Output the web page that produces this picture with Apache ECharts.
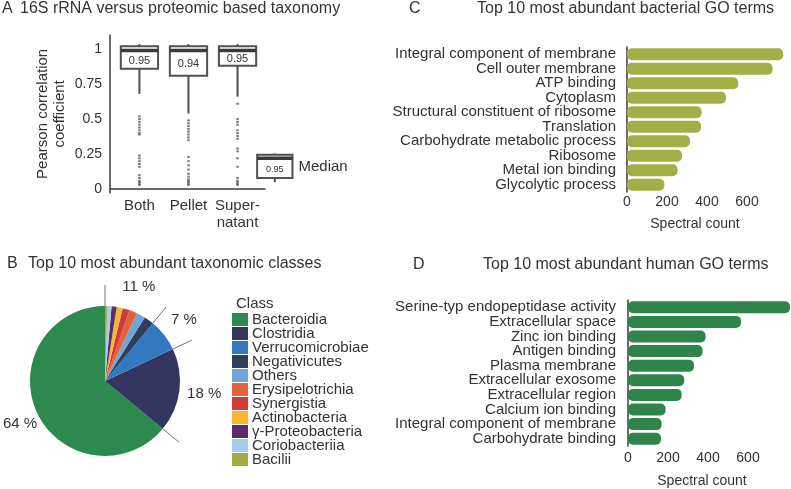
<!DOCTYPE html>
<html>
<head>
<meta charset="utf-8">
<script src="https://cdn.jsdelivr.net/npm/echarts@6/dist/echarts.min.js"></script>
<style>
html,body{margin:0;padding:0;background:#fff;}
#chart{width:791px;height:489px;}
</style>
</head>
<body>
<div id="chart"></div>
<script>
// ---------- Panel A data ----------
const boxGroups = ['Both', 'Pellet', 'Super-\nnatant'];
const boxLow = [0.68, 0.54, 0.66];
const boxQ1 = [0.86, 0.81, 0.88];
const boxMedian = [0.99, 0.99, 0.99];
const boxQ3 = [1.02, 1.02, 1.02];
const boxHigh = [1.035, 1.035, 1.035];
const boxMedianText = ['0.95', '0.94', '0.95'];
const outliersBoth = [0.52, 0.50, 0.48, 0.46, 0.44, 0.42, 0.40, 0.39, 0.24, 0.22, 0.20, 0.18, 0.16, 0.10, 0.08, 0.06, 0.05, 0.04, 0.03];
const outliersPellet = [0.49, 0.47, 0.45, 0.43, 0.41, 0.39, 0.37, 0.35, 0.23, 0.20, 0.17, 0.14, 0.11, 0.09, 0.07, 0.06, 0.05, 0.04, 0.03];
const outliersSuper = [0.61, 0.50, 0.48, 0.46, 0.42, 0.40, 0.38, 0.36, 0.29, 0.27, 0.22, 0.16, 0.08, 0.06, 0.05, 0.04, 0.03];
const keyBox = [0.05, 0.08, 0.22, 0.245, 0.255];
const keyText = '0.95';
const keyName = 'Median';
const yTicksA = [0, 0.25, 0.5, 0.75, 1];

// ---------- Panel B data ----------
const pieClasses = ['Bacteroidia', 'Clostridia', 'Verrucomicrobiae', 'Negativicutes', 'Others', 'Erysipelotrichia', 'Synergistia', 'Actinobacteria', 'γ-Proteobacteria', 'Coriobacteriia', 'Bacilii'];
const pieValues = [64, 18, 7, 2.1, 1.9, 1.7, 1.5, 1.3, 1.1, 0.9, 0.5];
const pieColors = ['#2c8a4e', '#34365f', '#3279c0', '#2b3f5f', '#6fa6d6', '#e2623a', '#cf3a3f', '#f6b630', '#5e2d68', '#a7cdee', '#a3ab3e'];
const pieGroupValues = [64, 18, 7, 11];
const pieGroupLabels = ['64 %', '18 %', '7 %', '11 %'];

// ---------- Panel C data ----------
const bactTerms = ['Integral component of membrane', 'Cell outer membrane', 'ATP binding', 'Cytoplasm', 'Structural constituent of ribosome', 'Translation', 'Carbohydrate metabolic process', 'Ribosome', 'Metal ion binding', 'Glycolytic process'];
const bactCounts = [781, 728, 556, 495, 373, 370, 315, 275, 253, 187];

// ---------- Panel D data ----------
const humanTerms = ['Serine-typ endopeptidase activity', 'Extracellular space', 'Zinc ion binding', 'Antigen binding', 'Plasma membrane', 'Extracellular exosome', 'Extracellular region', 'Calcium ion binding', 'Integral component of membrane', 'Carbohydrate binding'];
const humanCounts = [810, 565, 388, 373, 330, 281, 268, 188, 168, 165];

const xTicksBar = [0, 200, 400, 600];

// ---------- styling ----------
const FONT = '"Liberation Sans", Arial, Helvetica, sans-serif';
const TXT = '#333';
const LINE = '#3a3a3a';

const chart = echarts.init(document.getElementById('chart'), null, {renderer: 'canvas'});

function titleItem(text, left, top) {
  return {text: text, left: left, top: top, padding: 0,
    textStyle: {fontFamily: FONT, fontSize: 16, fontWeight: 'normal', color: TXT}};
}

// cumulative boundaries for pie groups
const groupBounds = [];
let acc = 0;
pieGroupValues.forEach(v => { groupBounds.push(acc); acc += v; });
const groupMids = pieGroupValues.map((v, i) => groupBounds[i] + v / 2);

function boxRender(params, api, labelText, labelSize, widthUnits, withName) {
  const x = api.value(0);
  const pLow = api.coord([x, api.value(1)]);
  const pQ1 = api.coord([x, api.value(2)]);
  const pMed = api.coord([x, api.value(3)]);
  const pQ3 = api.coord([x, api.value(4)]);
  const pHigh = api.coord([x, api.value(5)]);
  const hw = api.size([widthUnits, 0])[0] / 2;
  const cx = pMed[0];
  const children = [
    {type: 'line', shape: {x1: cx, y1: pLow[1], x2: cx, y2: pQ1[1]}, style: {stroke: '#505050', lineWidth: 2}},
    {type: 'line', shape: {x1: cx, y1: pQ3[1], x2: cx, y2: pHigh[1]}, style: {stroke: '#505050', lineWidth: 2}},
    {type: 'rect', shape: {x: cx - hw, y: pQ3[1], width: hw * 2, height: pQ1[1] - pQ3[1]}, style: {fill: '#fff', stroke: '#505050', lineWidth: 2}},
    {type: 'line', shape: {x1: cx - hw, y1: pMed[1], x2: cx + hw, y2: pMed[1]}, style: {stroke: '#3a3a3a', lineWidth: 3.5}},
    {type: 'text', style: {text: labelText, x: cx, y: (pMed[1] + pQ1[1]) / 2 + 1, align: 'center', verticalAlign: 'middle', fontFamily: FONT, fontSize: labelSize, fill: TXT}}
  ];
  if (withName) {
    children.push({type: 'text', style: {text: withName, x: cx + hw + 6, y: (pQ3[1] + pQ1[1]) / 2, align: 'left', verticalAlign: 'middle', fontFamily: FONT, fontSize: 15, fill: TXT}});
  }
  return {type: 'group', children: children};
}

const outlierData = [];
[outliersBoth, outliersPellet, outliersSuper].forEach((arr, i) => arr.forEach(v => outlierData.push([i + 1, v])));

const option = {
  animation: false,
  backgroundColor: '#fff',
  textStyle: {fontFamily: FONT},
  title: [
    titleItem('A', 2, 1),
    titleItem('16S rRNA versus proteomic based taxonomy', 20, 1),
    titleItem('B', 7, 256),
    titleItem('Top 10 most abundant taxonomic classes', 28, 256),
    titleItem('C', 409, 1),
    titleItem('Top 10 most abundant bacterial GO terms', 477, 1),
    titleItem('D', 413, 257),
    titleItem('Top 10 most abundant human GO terms', 483, 257),
    {text: 'Class', left: 236, top: 296, padding: 0, textStyle: {fontFamily: FONT, fontSize: 15, fontWeight: 'normal', color: TXT}}
  ],
  legend: {
    data: pieClasses,
    orient: 'vertical',
    left: 232, top: 312,
    padding: 0,
    itemWidth: 16, itemHeight: 13, itemGap: -1,
    icon: 'rect',
    selectedMode: false,
    textStyle: {fontFamily: FONT, fontSize: 15, color: TXT, lineHeight: 13, padding: [0, 0, 0, -1]}
  },
  grid: [
    {left: 110, top: 35, width: 155, height: 157.7},
    {left: 627, top: 47, width: 164, height: 145},
    {left: 628, top: 300, width: 163, height: 146}
  ],
  xAxis: [
    {gridIndex: 0, type: 'value', min: 0.4, max: 3.56,
      axisLine: {show: true, lineStyle: {color: LINE, width: 1.5}},
      axisTick: {show: false}, splitLine: {show: false},
      axisLabel: {customValues: [1, 2, 3], formatter: v => boxGroups[Math.round(v) - 1] || '',
        fontFamily: FONT, fontSize: 15, lineHeight: 17, color: TXT, margin: 5}},
    {gridIndex: 1, type: 'value', min: 0, max: 820,
      axisLine: {show: false}, axisTick: {show: false}, splitLine: {show: false},
      axisLabel: {customValues: xTicksBar, fontFamily: FONT, fontSize: 14, color: TXT, margin: 3},
      name: 'Spectral count', nameLocation: 'middle', nameGap: 25,
      nameTextStyle: {fontFamily: FONT, fontSize: 14, color: TXT, padding: [0, 28, 0, 0]}},
    {gridIndex: 2, type: 'value', min: 0, max: 815,
      axisLine: {show: false}, axisTick: {show: false}, splitLine: {show: false},
      axisLabel: {customValues: xTicksBar, fontFamily: FONT, fontSize: 14, color: TXT, margin: 5},
      name: 'Spectral count', nameLocation: 'middle', nameGap: 28,
      nameTextStyle: {fontFamily: FONT, fontSize: 14, color: TXT, padding: [0, 15, 0, 0]}}
  ],
  yAxis: [
    {gridIndex: 0, type: 'value', min: -0.025, max: 1.1,
      axisLine: {show: true, lineStyle: {color: LINE, width: 1.5}},
      axisTick: {show: false}, splitLine: {show: false},
      axisLabel: {customValues: yTicksA, fontFamily: FONT, fontSize: 14, color: TXT, margin: 8},
      name: 'Pearson correlation\ncoefficient', nameLocation: 'middle', nameGap: 42, nameRotate: 90,
      nameTextStyle: {fontFamily: FONT, fontSize: 15, lineHeight: 17, color: TXT}},
    {gridIndex: 1, type: 'category', data: bactTerms, inverse: true, offset: 5,
      axisLine: {show: true, lineStyle: {color: LINE, width: 1.5}},
      axisTick: {show: false},
      axisLabel: {interval: 0, fontFamily: FONT, fontSize: 15, color: TXT, margin: 6}},
    {gridIndex: 2, type: 'category', data: humanTerms, inverse: true, offset: 5,
      axisLine: {show: true, lineStyle: {color: LINE, width: 1.5}},
      axisTick: {show: false},
      axisLabel: {interval: 0, fontFamily: FONT, fontSize: 15, color: TXT, margin: 7}}
  ],
  polar: {center: [105, 381], radius: 100},
  angleAxis: {type: 'value', min: 0, max: 100, startAngle: 90, clockwise: false, show: false},
  radiusAxis: {type: 'value', min: 0, max: 100, show: false},
  series: [
    {type: 'scatter', xAxisIndex: 0, yAxisIndex: 0, data: outlierData,
      symbol: 'rect', symbolSize: [2.5, 2], itemStyle: {color: '#555'}, silent: true},
    {type: 'custom', xAxisIndex: 0, yAxisIndex: 0, silent: true,
      data: boxGroups.map((g, i) => [i + 1, boxLow[i], boxQ1[i], boxMedian[i], boxQ3[i], boxHigh[i]]),
      renderItem: (params, api) => boxRender(params, api, boxMedianText[params.dataIndex], 11, 0.76, null)},
    {type: 'custom', xAxisIndex: 0, yAxisIndex: 0, silent: true, clip: false,
      data: [[boxGroups.length + 0.76].concat(keyBox)],
      renderItem: (params, api) => boxRender(params, api, keyText, 9, 0.72, keyName)},
    {type: 'pie', name: 'Class', center: [105, 381], radius: 75, startAngle: 90, clockwise: false,
      label: {show: false}, labelLine: {show: false}, silent: true,
      data: pieClasses.map((c, i) => ({name: c, value: pieValues[i], itemStyle: {color: pieColors[i]}}))},
    {type: 'custom', coordinateSystem: 'polar', silent: true, clip: false,
      data: groupBounds.map(b => [96, b]),
      renderItem: (params, api) => {
        const a = api.value(1);
        const p1 = api.coord([75, a]);
        const p2 = api.coord([96, a]);
        return {type: 'line', shape: {x1: p1[0], y1: p1[1], x2: p2[0], y2: p2[1]}, style: {stroke: '#777', lineWidth: 1}};
      }},
    {type: 'custom', coordinateSystem: 'polar', silent: true, clip: false,
      data: groupMids.map(m => [100, m]),
      renderItem: (params, api) => {
        const p = api.coord([100, api.value(1)]);
        const txt = pieGroupLabels[params.dataIndex];
        // keep label inside the canvas on the left side
        const x = Math.max(p[0], 20);
        return {type: 'text', style: {text: txt, x: x, y: p[1], align: 'center', verticalAlign: 'middle', fontFamily: FONT, fontSize: 15, fill: TXT}};
      }},
    {type: 'bar', xAxisIndex: 1, yAxisIndex: 1, data: bactCounts, barWidth: 12, silent: true,
      itemStyle: {color: '#a4ae46', borderRadius: 5}},
    {type: 'bar', xAxisIndex: 2, yAxisIndex: 2, data: humanCounts, barWidth: 12, silent: true,
      itemStyle: {color: '#2e8449', borderRadius: 5}}
  ]
};
chart.setOption(option);
</script>
</body>
</html>
